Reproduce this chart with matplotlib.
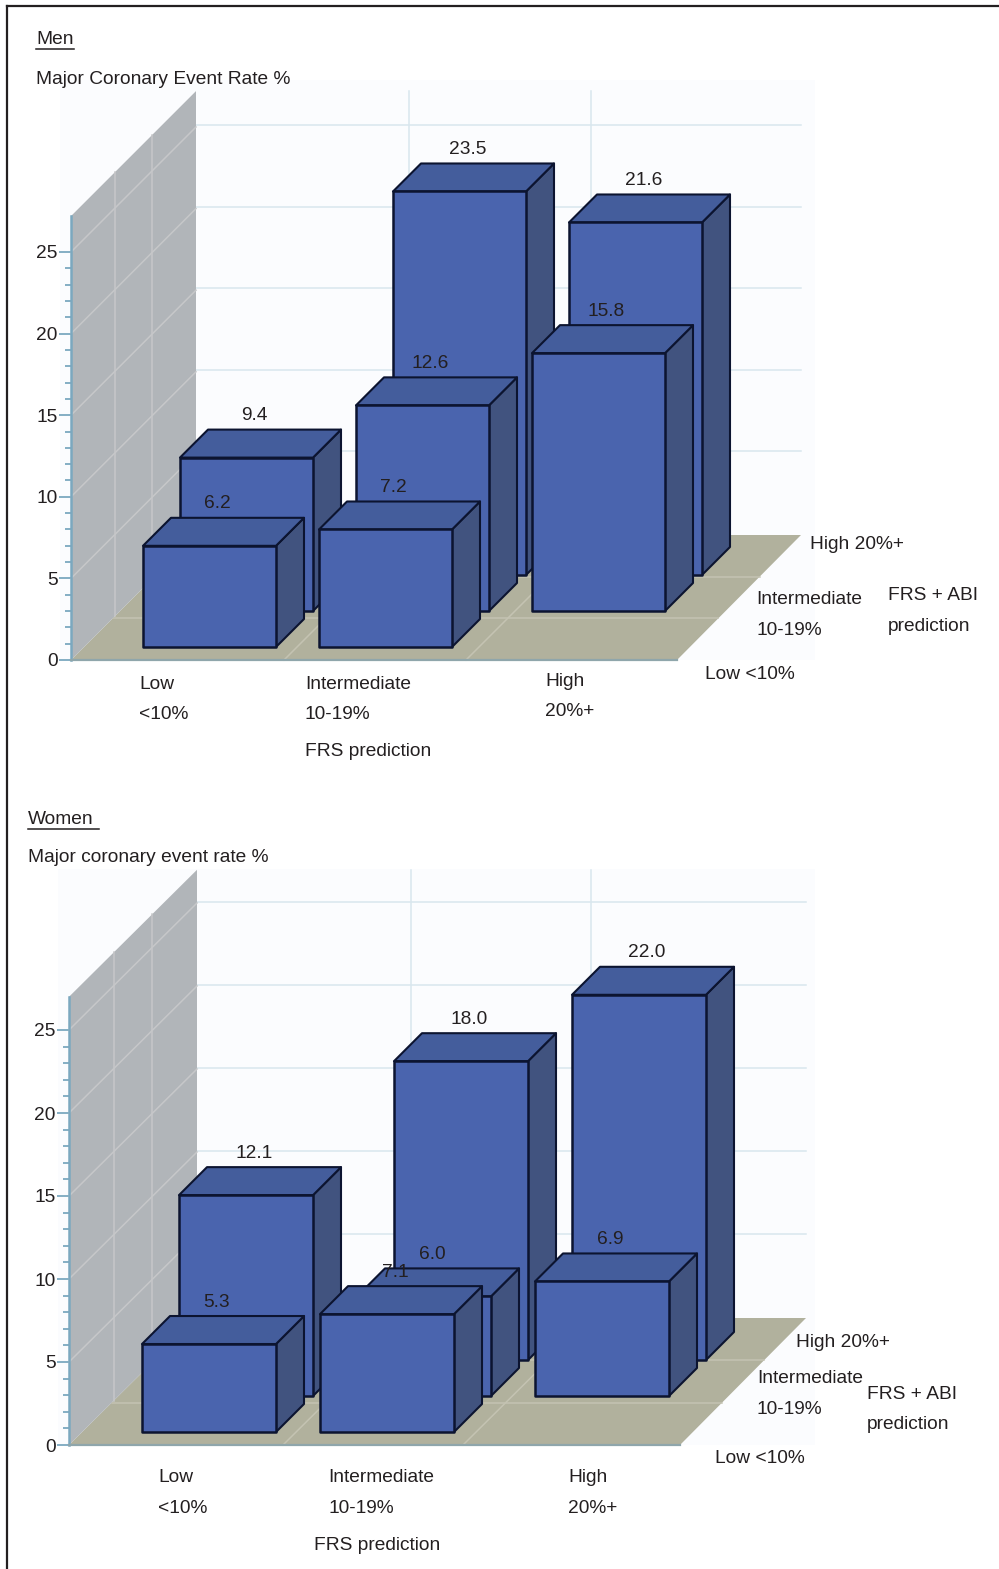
import matplotlib
matplotlib.use("Agg")
import matplotlib.pyplot as plt
from matplotlib.patches import Polygon, Rectangle
from matplotlib.lines import Line2D
from matplotlib.ticker import FixedLocator

W, H = 999, 1569
plt.rcParams['font.family'] = ['Liberation Sans', 'DejaVu Sans']

# ---- data -----------------------------------------------------------------
men_low = [6.2, 9.4]            # FRS low: ABI-adjusted low, intermediate
men_intermediate = [7.2, 12.6, 23.5]
men_high = [15.8, 21.6]         # FRS high: ABI-adjusted intermediate, high
women_low = [5.3, 12.1]
women_intermediate = [7.1, 6.0, 18.0]
women_high = [6.9, 22.0]
rows_low = [0, 1]
rows_intermediate = [0, 1, 2]
rows_high = [1, 2]
y_ticks = [0, 5, 10, 15, 20, 25]
y_minor_ticks = [t for t in range(1, 25) if t % 5]

men_panel = dict(
    series=[(0, rows_low, men_low), (1, rows_intermediate, men_intermediate), (2, rows_high, men_high)],
    ox=71, oy=660, ypx=16.32, pitch=176, width=133, base=59, ymax=27.2,
    wall=125, wall_y=125, floor_w=606, back_grid=[213, 395], grid_lift=2,
    rear_right=801, panel=(60, 80, 815, 660),
)
women_panel = dict(
    series=[(0, rows_low, women_low), (1, rows_intermediate, women_intermediate), (2, rows_high, women_high)],
    ox=69, oy=1445, ypx=16.6, pitch=178, width=134, base=60, ymax=27.0,
    wall=128, wall_y=127, floor_w=611, back_grid=[214, 394], grid_lift=1,
    rear_right=806, panel=(58, 869, 815, 1445),
)

FRONT, TOP, SIDE = '#4a64ae', '#445d9c', '#41537f'
EDGE = '#0c1430'
FLOOR, WALL, PALE = '#b1b19d', '#b1b5b9', '#fbfcfe'
GRID_BACK, GRID_WALL, GRID_FLOOR = '#d9e6ee', '#c6c7c9', '#c4c3b2'
AXIS = '#7ba8bf'
TEXT = '#231f20'
FS = 13.8

fig = plt.figure(figsize=(W / 100, H / 100), dpi=100, facecolor='white')


def label(x, y, s, **kw):
    return fig.text(x / W, 1 - (y + 2.5) / H, s, fontsize=FS, color=TEXT, va='center', **kw)


def draw_panel(p):
    left, top, right, bottom = p['panel'][0] - 15, p['panel'][1], p['panel'][2], p['oy'] + 12
    ax = fig.add_axes([left / W, 1 - bottom / H, (right - left) / W, (bottom - top) / H])
    pitch, ypx = p['pitch'], p['ypx']
    ax.set_xlim((left - p['ox']) / pitch, (right - p['ox']) / pitch)
    ax.set_ylim((p['oy'] - bottom) / ypx, (p['oy'] - top) / ypx)
    ax.patch.set_alpha(0)

    def pt(col_px, depth_px, rate, depth_y=None):
        """oblique projection: pixels along width/depth, rate along height"""
        dy = depth_px if depth_y is None else depth_y
        return ((col_px + depth_px) / pitch, rate + dy / ypx)

    wall, wy = p['wall'], p['wall_y']
    fw = p['floor_w']
    lift = p['grid_lift']
    # pale plot backdrop
    ax.add_patch(Rectangle((ax.get_xlim()[0] + 15 / pitch, 0), (right - left - 15) / pitch,
                           ax.get_ylim()[1], fc=PALE, ec='none', zorder=0))
    # back-wall grid
    rear_len = p['rear_right'] - p['ox'] - wall
    for v in y_ticks[1:]:
        a, b = pt(0, wall, v, wy + lift), pt(rear_len, wall, v, wy + lift)
        ax.plot([a[0], b[0]], [a[1], b[1]], color=GRID_BACK, lw=1.1, zorder=1)
    for g in p['back_grid']:
        a, b = pt(g, wall, 0, wy), pt(g, wall, p['ymax'], wy)
        ax.plot([a[0], b[0]], [a[1], b[1]], color=GRID_BACK, lw=1.1, zorder=1)
    # floor
    ax.add_patch(Polygon([pt(0, 0, 0), pt(0, wall, 0, wy), pt(rear_len, wall, 0, wy), pt(fw, 0, 0)],
                         fc=FLOOR, ec='none', zorder=1.5))
    for f in (1 / 3, 2 / 3):
        a, b = pt(0, wall * f, 0, wy * f), pt(fw + (rear_len - fw) * f, wall * f, 0, wy * f)
        ax.plot([a[0], b[0]], [a[1], b[1]], color=GRID_FLOOR, lw=1.1, zorder=1.6)
    for g in p['back_grid']:
        a, b = pt(g, 0, 0), pt(g, wall, 0, wy)
        ax.plot([a[0], b[0]], [a[1], b[1]], color=GRID_FLOOR, lw=1.1, zorder=1.6)
    # side wall
    ax.add_patch(Polygon([pt(0, 0, 0), pt(0, 0, p['ymax']), pt(0, wall, p['ymax'], wy), pt(0, wall, 0, wy)],
                         fc=WALL, ec='none', zorder=2))
    for f in (0.35, 0.65):
        a, b = pt(0, wall * f, 0, wy * f), pt(0, wall * f, p['ymax'], wy * f)
        ax.plot([a[0], b[0]], [a[1], b[1]], color=GRID_WALL, lw=1.1, zorder=2.1)
    for v in y_ticks[1:]:
        a, b = pt(0, 0, v), pt(0, wall, v, wy)
        ax.plot([a[0], b[0]], [a[1], b[1]], color=GRID_WALL, lw=1.1, zorder=2.1)

    # bars, back rows first
    bars = [(r, c, v) for c, rows, vals in p['series'] for r, v in zip(rows, vals)]
    w, dx, dy = p['width'], 28, 28
    for r, c, v in bars:
        x0 = p['base'] + c * pitch
        d, dv = 13 + r * 37, 13 + r * 36
        z = 30 - r * 10
        ax.add_patch(Polygon([pt(x0 + w, d, 0, dv), pt(x0 + w + dx, d, 0, dv + dy), pt(x0 + w + dx, d, v, dv + dy),
                              pt(x0 + w, d, v, dv)], fc=SIDE, ec=EDGE, lw=1.5, zorder=z, joinstyle='round'))
        ax.add_patch(Polygon([pt(x0, d, v, dv), pt(x0 + dx, d, v, dv + dy), pt(x0 + w + dx, d, v, dv + dy),
                              pt(x0 + w, d, v, dv)], fc=TOP, ec=EDGE, lw=1.5, zorder=z, joinstyle='round'))
        ax.add_patch(Polygon([pt(x0, d, 0, dv), pt(x0, d, v, dv), pt(x0 + w, d, v, dv), pt(x0 + w, d, 0, dv)],
                             fc=FRONT, ec=EDGE, lw=1.8, zorder=z + 0.1, joinstyle='round'))
        lx, ly = pt(x0 + w / 2 + 8, d, v + 42 / ypx, dv)
        ax.text(lx, ly, f'{v:.1f}', ha='center', va='center', fontsize=FS, color=TEXT, zorder=60)

    # value axis
    for s in ('top', 'right'):
        ax.spines[s].set_visible(False)
    ax.spines['left'].set_position(('data', 0))
    ax.spines['left'].set_bounds(0, p['ymax'])
    ax.spines['left'].set_color(AXIS)
    ax.spines['left'].set_linewidth(1.8)
    ax.spines['left'].set_zorder(3)
    ax.spines['bottom'].set_position(('data', 0))
    ax.spines['bottom'].set_bounds(0, fw / pitch)
    ax.spines['bottom'].set_color('#8fa6ab')
    ax.spines['bottom'].set_linewidth(1.6)
    ax.spines['bottom'].set_zorder(3)
    ax.set_xticks([])
    ax.set_yticks(y_ticks)
    ax.yaxis.set_minor_locator(FixedLocator(y_minor_ticks))
    ax.tick_params(axis='y', which='major', length=8.5, width=1.3, color=AXIS, labelsize=FS,
                   labelcolor=TEXT, pad=1)
    ax.tick_params(axis='y', which='minor', length=4, width=1.3, color=AXIS)


draw_panel(men_panel)
draw_panel(women_panel)

# outer frame: top and left rules only
fig.add_artist(Line2D([7 / W, 7 / W], [0, 1 - 6 / H], color='#231f20', lw=1.6, solid_capstyle='projecting'))
fig.add_artist(Line2D([7 / W, 1], [1 - 6 / H, 1 - 6 / H], color='#231f20', lw=1.6, solid_capstyle='projecting'))

# text
men_title = label(36, 37, 'Men')
label(36, 77, 'Major Coronary Event Rate %')
for x, y, s in [(139, 682, 'Low'), (139, 712, '<10%'), (305, 682, 'Intermediate'), (305, 712, '10-19%'),
                (545, 679, 'High'), (545, 709, '20%+'), (305, 749, 'FRS prediction'),
                (810, 542, 'High 20%+'), (756, 597, 'Intermediate'), (756, 628, '10-19%'),
                (888, 593, 'FRS + ABI'), (888, 624, 'prediction'), (705, 672, 'Low <10%')]:
    label(x, y, s)
women_title = label(28, 817, 'Women')
label(28, 855, 'Major coronary event rate %')
for x, y, s in [(158, 1475, 'Low'), (158, 1506, '<10%'), (328, 1475, 'Intermediate'), (328, 1506, '10-19%'),
                (568, 1475, 'High'), (568, 1506, '20%+'), (314, 1543, 'FRS prediction'),
                (796, 1340, 'High 20%+'), (757, 1376, 'Intermediate'), (757, 1407, '10-19%'),
                (867, 1392, 'FRS + ABI'), (867, 1422, 'prediction'), (715, 1456, 'Low <10%')]:
    label(x, y, s)

# underlines under the panel titles
r = fig.canvas.get_renderer()
for t, extra in ((men_title, 0), (women_title, 5)):
    bb = t.get_window_extent(r)
    yy = (bb.y0 - 1) / H
    fig.add_artist(Line2D([bb.x0 / W, (bb.x1 + extra) / W], [yy, yy], color=TEXT, lw=1.1))

fig.savefig('out.png', dpi=100)
